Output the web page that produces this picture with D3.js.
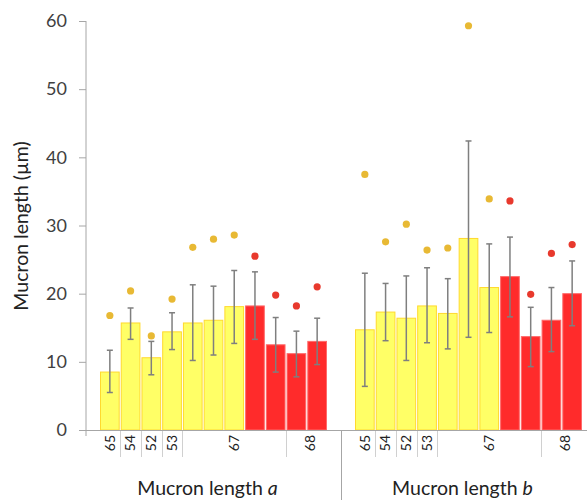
<!DOCTYPE html>
<html>
<head>
<meta charset="utf-8">
<script src="https://cdn.jsdelivr.net/npm/d3@7"></script>
<style>
  body { margin: 0; background: #fff; }
  svg { font-family: Lato, "Open Sans", sans-serif; }
</style>
</head>
<body>
<div id="chart"></div>
<script>
// sub-category labels along the axis and how many bars each one spans
var subLabels = ["65", "54", "52", "53", "67", "68"];
var subCounts = [1, 1, 1, 1, 5, 2];
// bar colour type per position (yellow / red)
var barType = ["y", "y", "y", "y", "y", "y", "y", "r", "r", "r", "r"];

var groups = ["a", "b"];

// Mucron length a
var meanA = [8.5, 15.7, 10.6, 14.4, 15.7, 16.1, 18.1, 18.2, 12.5, 11.2, 13.0];
var hiA   = [11.7, 17.9, 13.0, 17.2, 21.3, 21.1, 23.4, 23.2, 16.5, 14.5, 16.4];
var loA   = [5.5, 13.3, 8.1, 11.8, 10.2, 11.0, 12.7, 13.3, 8.5, 7.8, 9.6];
var maxA  = [16.8, 20.4, 13.8, 19.2, 26.8, 28.0, 28.6, 25.5, 19.8, 18.2, 21.0];

// Mucron length b
var meanB = [14.7, 17.3, 16.4, 18.2, 17.1, 28.1, 20.9, 22.5, 13.7, 16.1, 20.0];
var hiB   = [23.0, 21.5, 22.6, 23.8, 22.2, 42.4, 27.3, 28.3, 18.0, 20.9, 24.8];
var loB   = [6.4, 13.1, 10.2, 12.8, 11.9, 13.6, 14.3, 16.6, 9.3, 11.5, 15.3];
var maxB  = [37.5, 27.6, 30.2, 26.4, 26.7, 59.3, 33.9, 33.6, 19.9, 25.9, 27.2];

var yTicks = [0, 10, 20, 30, 40, 50, 60];

var w = 587, h = 500;
var svg = d3.select("#chart").append("svg")
  .attr("width", w).attr("height", h);

var fill = { y: "#ffff66", r: "#ff2b2b" };
var edge = { y: "#ffd92e", r: "#ff6a6a" };
var dotCol = { y: "#e8b934", r: "#e8392d" };

var y = d3.scaleLinear().domain([0, 60]).range([430, 21]);
var xg = d3.scaleBand().domain(groups).range([86, 596]);
var xi = d3.scaleBand().domain(d3.range(11)).range([14, 241]).paddingInner(0.05);
var step = xi.step();

var data = {
  a: { mean: meanA, hi: hiA, lo: loA, max: maxA },
  b: { mean: meanB, hi: hiB, lo: loB, max: maxB }
};

// y axis
var yAxis = d3.axisLeft(y).tickValues(yTicks).tickSize(7).tickPadding(12);
var ya = svg.append("g").attr("transform", "translate(86,0)").call(yAxis);
ya.select(".domain").remove();
ya.selectAll(".tick line").attr("stroke", "#a6a6a6");
ya.selectAll(".tick text").attr("font-size", 18).attr("fill", "#404040")
  .attr("font-family", "Lato, sans-serif");
svg.append("line").attr("x1", 86).attr("x2", 86).attr("y1", y(60)).attr("y2", 436)
  .attr("stroke", "#a6a6a6");

svg.append("text")
  .attr("transform", "translate(28," + 226 + ") rotate(-90)")
  .attr("text-anchor", "middle")
  .attr("font-size", 19.5).attr("fill", "#222")
  .text("Mucron length (µm)");

groups.forEach(function(g) {
  var gx = xg(g);
  var d = data[g];
  var gg = svg.append("g").attr("transform", "translate(" + gx + ",0)");

  gg.selectAll("rect.bar").data(d.mean).enter().append("rect")
    .attr("class", "bar")
    .attr("x", function(v, i) { return xi(i) + 0.5; })
    .attr("width", xi.bandwidth() - 1)
    .attr("y", function(v) { return y(v); })
    .attr("height", function(v) { return y(0) - y(v); })
    .attr("fill", function(v, i) { return fill[barType[i]]; })
    .attr("stroke", function(v, i) { return edge[barType[i]]; })
    .attr("stroke-width", 1);

  // error bars
  d.mean.forEach(function(v, i) {
    var cx = xi(i) + xi.bandwidth() / 2;
    gg.append("line").attr("x1", cx).attr("x2", cx)
      .attr("y1", y(d.hi[i])).attr("y2", y(d.lo[i]))
      .attr("stroke", "#7f7f7f").attr("stroke-width", 1.5);
    [d.hi[i], d.lo[i]].forEach(function(e) {
      gg.append("line").attr("x1", cx - 3).attr("x2", cx + 3)
        .attr("y1", y(e)).attr("y2", y(e))
        .attr("stroke", "#7f7f7f").attr("stroke-width", 1.5);
    });
  });

  gg.selectAll("circle").data(d.max).enter().append("circle")
    .attr("cx", function(v, i) { return xi(i) + xi.bandwidth() / 2; })
    .attr("cy", function(v) { return y(v); })
    .attr("r", 3.6)
    .attr("fill", function(v, i) { return dotCol[barType[i]]; });

  // sub-category labels and separators
  var start = 0;
  subLabels.forEach(function(lab, k) {
    var n = subCounts[k];
    var x0 = xi(start) - (start === 0 ? 0 : (step - xi.bandwidth()) / 2);
    var x1 = xi(start + n - 1) + xi.bandwidth();
    var cx = (x0 + x1) / 2;
    if (k === subLabels.length - 1) cx += 3;
    gg.append("text")
      .attr("transform", "translate(" + (cx + 5) + ",443) rotate(-90)")
      .attr("text-anchor", "middle")
      .attr("font-size", 14).attr("fill", "#222")
      .text(lab);
    if (start > 0) {
      var sx = Math.round(x0) + 0.5;
      gg.append("line").attr("x1", sx).attr("x2", sx)
        .attr("y1", 430).attr("y2", 457)
        .attr("stroke", "#d0d0d0");
    }
    start += n;
  });

  svg.append("text")
    .attr("x", gx + 241 / 2 + 1)
    .attr("y", 495)
    .attr("text-anchor", "middle")
    .attr("font-size", 19.5).attr("fill", "#222")
    .text("Mucron length ")
    .append("tspan").attr("font-style", "italic").text(g);
});

// x axis line and group divider
svg.append("line").attr("x1", 79).attr("x2", w).attr("y1", 430.5).attr("y2", 430.5)
  .attr("stroke", "#a6a6a6");
var divX = Math.round(xg("b")) + 0.5;
svg.append("line").attr("x1", divX).attr("x2", divX).attr("y1", 430).attr("y2", 500)
  .attr("stroke", "#a6a6a6");
</script>
</body>
</html>
